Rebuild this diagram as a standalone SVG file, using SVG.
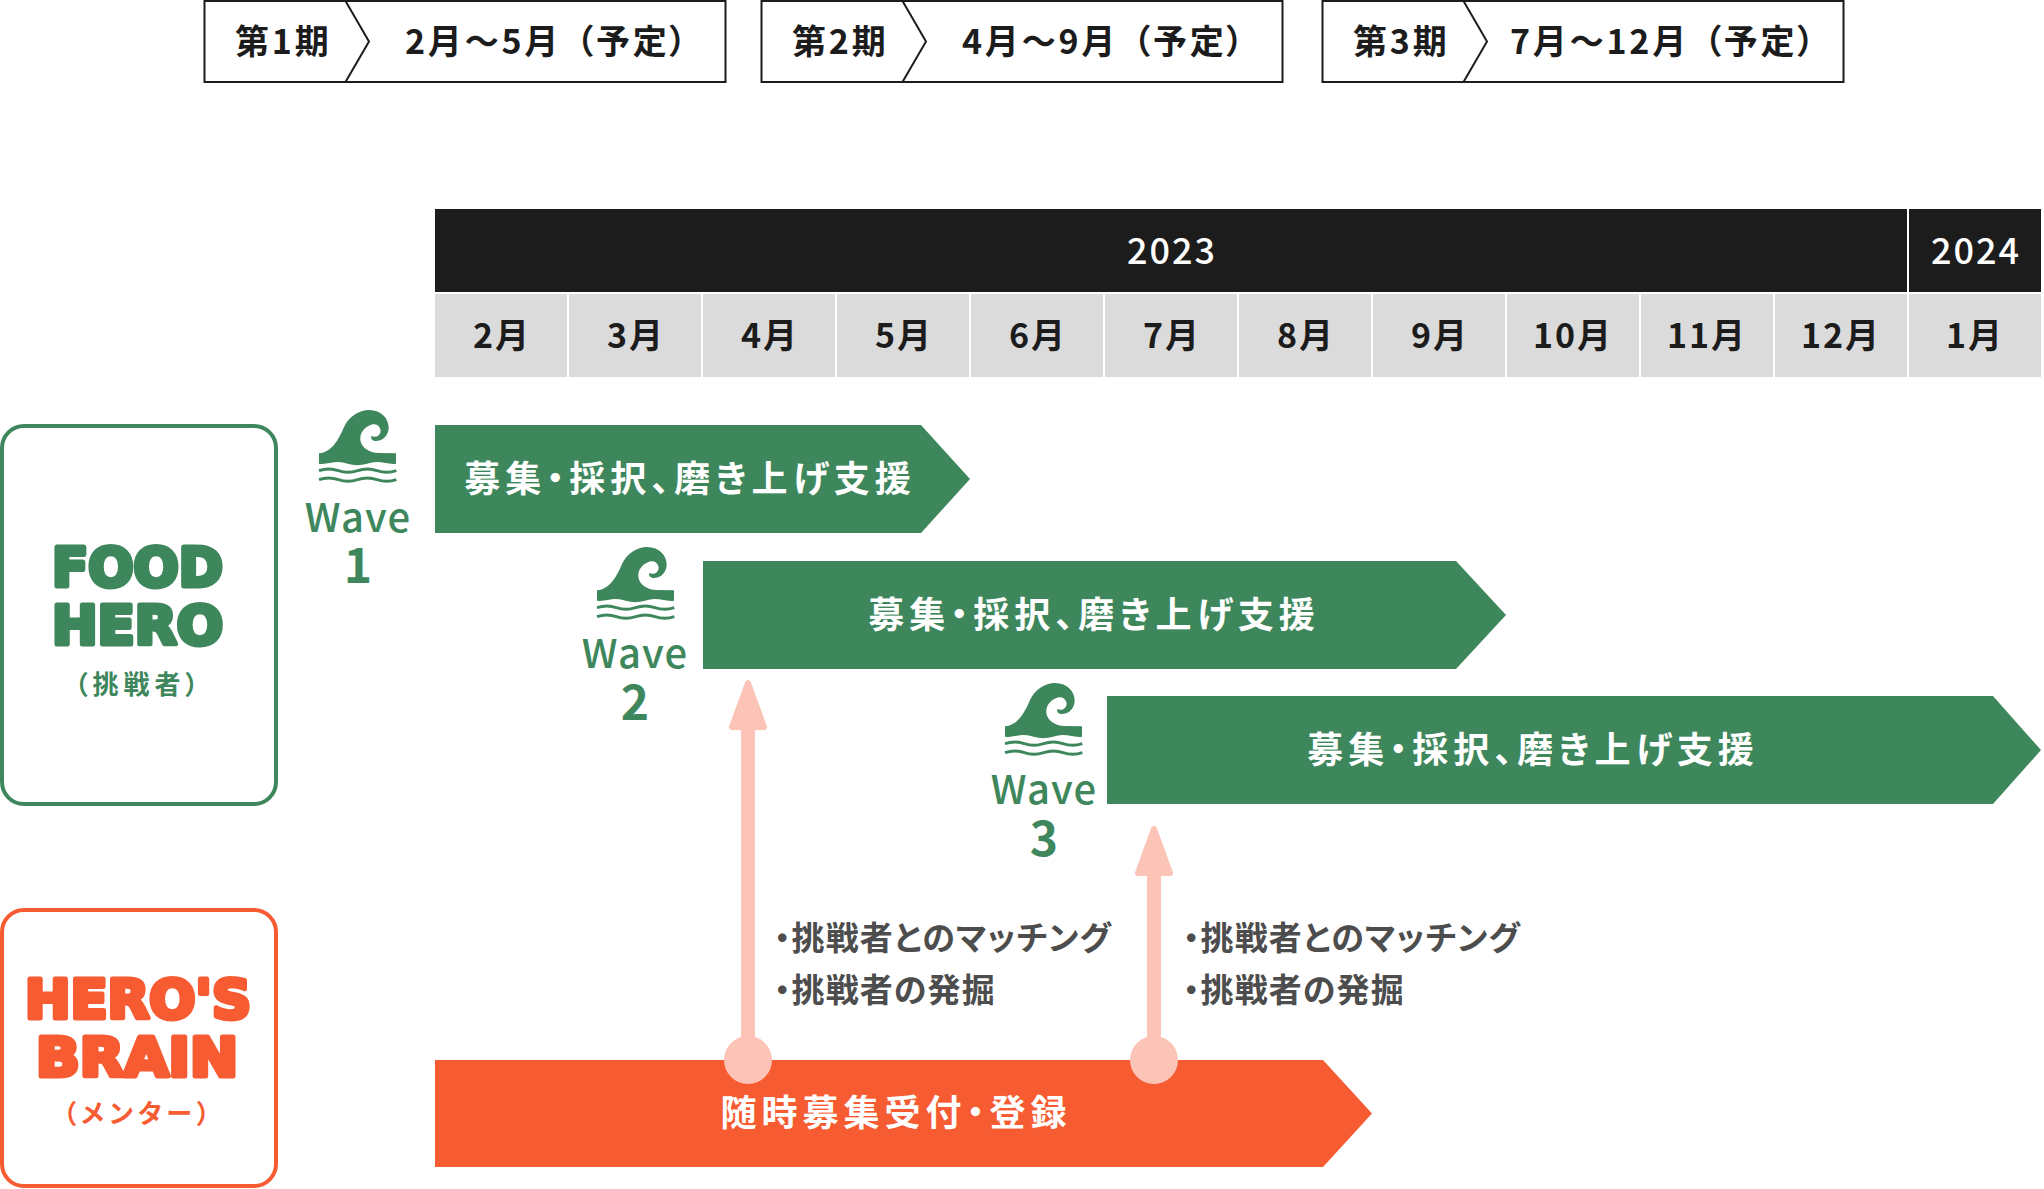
<svg xmlns="http://www.w3.org/2000/svg" width="2044" height="1189" viewBox="0 0 2044 1189">
<style>
text{font-family:"Noto Sans CJK JP","Noto Sans",sans-serif;font-feature-settings:"palt"}
.hb{fill:#fff;stroke:#1c1c1c;stroke-width:2}
.ht{font-size:34px;font-weight:700;fill:#1c1c1c;letter-spacing:2.800px}
.yr{fill:#1c1c1c}
.yt{font-size:36px;font-weight:500;fill:#fff;text-anchor:middle;letter-spacing:2px}
.mo{fill:#dbdbdb}
.mt{font-size:34px;font-weight:700;fill:#1c1c1c;text-anchor:middle;letter-spacing:2px}
.g{fill:#3e875c}
.o{fill:#f75b31}
.bt{font-size:36px;font-weight:700;fill:#fff;text-anchor:middle;letter-spacing:5px}
.wt{font-size:40px;font-weight:500;fill:#3e875c;text-anchor:middle;letter-spacing:1px}
.wn{font-size:48px;font-weight:700;letter-spacing:0}
.logo{font-family:"DejaVu Sans",sans-serif;font-weight:700;font-size:54px;stroke-width:5px;stroke-linejoin:round}
.sub{font-size:26px;font-weight:700;text-anchor:middle;letter-spacing:5px}
.note{font-size:33px;font-weight:700;fill:#4d4d4d;letter-spacing:1.100px}
.pink{fill:#fcc3b7}
.ph{fill:#fcc3b7;stroke:#fcc3b7;stroke-width:6;stroke-linejoin:round}
</style>
<defs>
<g id="wave" transform="scale(.3333) translate(-111,-52)">
<path class="g" d="M111 182C150 178 170 140 185 105C200 72 230 52 262 52C298 52 320 78 320 105C320 128 302 145 282 145C270 145 266 138 268 130C272 132 276 133 282 132C292 130 298 120 295 110C292 98 280 92 268 96C248 102 233 120 235 142C238 165 262 180 290 181L342 182L342 213C325 216 305 208 285 208C265 208 245 218 226 218C207 218 187 208 168 208C148 208 130 216 111 213Z"/>
<path d="M111 234q29-10 58 0t58 0t58 0t58 0M111 261q29-10 58 0t58 0t58 0t58 0" fill="none" stroke="#3e875c" stroke-width="9"/>
</g>
</defs>
<rect width="2044" height="1189" fill="#fff"/>

<g id="phase-1">
<rect class="hb" x="204.500" y="1" width="521" height="81"/>
<path d="M345.500 1L369 41.500L345.500 82" fill="none" stroke="#1c1c1c" stroke-width="2"/>
<text class="ht" x="235" y="54">第1期</text><text class="ht" x="405" y="54">2月～5月<tspan dx="15">（予定）</tspan></text>
</g>
<g id="phase-2">
<rect class="hb" x="761.500" y="1" width="521" height="81"/>
<path d="M902.500 1L926 41.500L902.500 82" fill="none" stroke="#1c1c1c" stroke-width="2"/>
<text class="ht" x="792" y="54">第2期</text><text class="ht" x="962" y="54">4月～9月<tspan dx="15">（予定）</tspan></text>
</g>
<g id="phase-3">
<rect class="hb" x="1322.500" y="1" width="521" height="81"/>
<path d="M1463.500 1L1487 41.500L1463.500 82" fill="none" stroke="#1c1c1c" stroke-width="2"/>
<text class="ht" x="1353" y="54">第3期</text><text class="ht" x="1510" y="54">7月～12月<tspan dx="15">（予定）</tspan></text>
</g>

<g id="timeline">
<rect class="yr" x="435" y="209" width="1472" height="83"/>
<text class="yt" x="1172" y="264">2023</text>
<rect class="yr" x="1909" y="209" width="132" height="83"/>
<text class="yt" x="1976" y="264">2024</text>
<rect class="mo" x="435" y="294" width="132" height="83"/><text class="mt" x="502" y="348">2月</text>
<rect class="mo" x="569" y="294" width="132" height="83"/><text class="mt" x="636" y="348">3月</text>
<rect class="mo" x="703" y="294" width="132" height="83"/><text class="mt" x="770" y="348">4月</text>
<rect class="mo" x="837" y="294" width="132" height="83"/><text class="mt" x="904" y="348">5月</text>
<rect class="mo" x="971" y="294" width="132" height="83"/><text class="mt" x="1038" y="348">6月</text>
<rect class="mo" x="1105" y="294" width="132" height="83"/><text class="mt" x="1172" y="348">7月</text>
<rect class="mo" x="1239" y="294" width="132" height="83"/><text class="mt" x="1306" y="348">8月</text>
<rect class="mo" x="1373" y="294" width="132" height="83"/><text class="mt" x="1440" y="348">9月</text>
<rect class="mo" x="1507" y="294" width="132" height="83"/><text class="mt" x="1573" y="348">10月</text>
<rect class="mo" x="1641" y="294" width="132" height="83"/><text class="mt" x="1707" y="348">11月</text>
<rect class="mo" x="1775" y="294" width="132" height="83"/><text class="mt" x="1841" y="348">12月</text>
<rect class="mo" x="1909" y="294" width="132" height="83"/><text class="mt" x="1975" y="348">1月</text>
</g>

<g id="food-hero">
<rect x="2" y="426" width="274" height="378" rx="22" fill="#fff" stroke="#3e875c" stroke-width="4"/>
<text class="logo g" stroke="#3e875c" x="52" y="585.500" textLength="171" lengthAdjust="spacingAndGlyphs">FOOD</text>
<text class="logo g" stroke="#3e875c" x="52" y="643.500" textLength="171" lengthAdjust="spacingAndGlyphs">HERO</text>
<text class="sub g" x="139" y="694">（挑戦者）</text>
</g>
<g id="heros-brain">
<rect x="2" y="910" width="274" height="276" rx="22" fill="#fff" stroke="#f75b31" stroke-width="4"/>
<text class="logo o" stroke="#f75b31" x="25" y="1017.500" textLength="226" lengthAdjust="spacingAndGlyphs">HERO'S</text>
<text class="logo o" stroke="#f75b31" x="36" y="1075.500" textLength="202" lengthAdjust="spacingAndGlyphs">BRAIN</text>
<text class="sub o" x="139" y="1123">（メンター）</text>
</g>

<g id="wave-1">
<use href="#wave" x="319" y="410"/>
<text class="wt" x="358" y="532">Wave<tspan class="wn" x="358" y="583">1</tspan></text>
<path class="g" d="M435 425H921L970 479L921 533H435Z"/>
<text class="bt" x="690" y="492">募集・採択、磨き上げ支援</text>
</g>
<g id="wave-2">
<use href="#wave" x="597" y="547"/>
<text class="wt" x="635" y="668">Wave<tspan class="wn" x="635" y="720">2</tspan></text>
<path class="g" d="M703 561H1456L1506 615L1456 669H703Z"/>
<text class="bt" x="1094" y="628">募集・採択、磨き上げ支援</text>
</g>
<g id="wave-3">
<use href="#wave" x="1005" y="683"/>
<text class="wt" x="1044" y="804">Wave<tspan class="wn" x="1044" y="856">3</tspan></text>
<path class="g" d="M1107 696H1993L2041 750L1993 804H1107Z"/>
<text class="bt" x="1533" y="763">募集・採択、磨き上げ支援</text>
</g>

<g id="recruit">
<path class="o" d="M435 1060H1323L1372 1113.500L1323 1167H435Z"/>
<text class="bt" x="896" y="1126">随時募集受付・登録</text>
</g>

<g id="connectors">
<rect class="pink" x="741" y="720" width="14" height="340"/>
<path class="ph" d="M748 683L732 727H764Z"/>
<circle class="pink" cx="748" cy="1060" r="24"/>
<rect class="pink" x="1147" y="865" width="14" height="195"/>
<path class="ph" d="M1154 829L1138 873H1170Z"/>
<circle class="pink" cx="1154" cy="1060" r="24"/>
</g>

<g id="note-1">
<text class="note" x="774" y="950">・挑戦者とのマッチング</text>
<text class="note" x="774" y="1002">・挑戦者の発掘</text>
</g>
<g id="note-2">
<text class="note" x="1183" y="950">・挑戦者とのマッチング</text>
<text class="note" x="1183" y="1002">・挑戦者の発掘</text>
</g>
</svg>
